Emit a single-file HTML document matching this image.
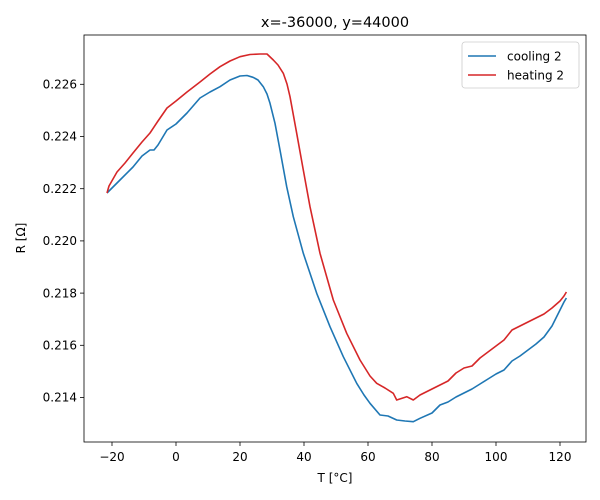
<!DOCTYPE html>
<html><head><meta charset="utf-8"><style>body{margin:0;background:#fff}svg{display:block;font-family:"DejaVu Sans","Liberation Sans",sans-serif}</style></head><body>
<svg width="600" height="500" viewBox="0 0 600 500">
<rect width="600" height="500" fill="#fff"/>
<text x="335" y="27" font-size="14.5" text-anchor="middle">x=-36000, y=44000</text>
<g stroke="#000" stroke-width="0.8">
<line x1="112" y1="442" x2="112" y2="446"/><line x1="176" y1="442" x2="176" y2="446"/><line x1="240" y1="442" x2="240" y2="446"/><line x1="304" y1="442" x2="304" y2="446"/><line x1="368" y1="442" x2="368" y2="446"/><line x1="432" y1="442" x2="432" y2="446"/><line x1="496" y1="442" x2="496" y2="446"/><line x1="560" y1="442" x2="560" y2="446"/>
<line x1="80" y1="84.3" x2="84" y2="84.3"/><line x1="80" y1="136.5" x2="84" y2="136.5"/><line x1="80" y1="188.7" x2="84" y2="188.7"/><line x1="80" y1="240.9" x2="84" y2="240.9"/><line x1="80" y1="293.1" x2="84" y2="293.1"/><line x1="80" y1="345.3" x2="84" y2="345.3"/><line x1="80" y1="397.5" x2="84" y2="397.5"/>
</g>
<g font-size="12" text-anchor="middle">
<text x="112" y="461">−20</text><text x="176" y="461">0</text><text x="240" y="461">20</text><text x="304" y="461">40</text><text x="368" y="461">60</text><text x="432" y="461">80</text><text x="496" y="461">100</text><text x="560" y="461">120</text>
</g>
<g font-size="12" text-anchor="end">
<text x="77" y="88.5">0.226</text><text x="77" y="140.7">0.224</text><text x="77" y="192.9">0.222</text><text x="77" y="245.1">0.220</text><text x="77" y="297.3">0.218</text><text x="77" y="349.5">0.216</text><text x="77" y="401.7">0.214</text>
</g>
<text x="335" y="482" font-size="12" text-anchor="middle">T [°C]</text>
<text transform="translate(25,238) rotate(-90)" font-size="12" text-anchor="middle">R [Ω]</text>
<polyline fill="none" stroke="#1f77b4" stroke-width="1.6" stroke-linejoin="round" points="107,193 110,190 120,180 133,167 142,156 150,150 154,150 158,145 167,130 176,124 187,113 200,98 210,92 220,86.7 230,80 240,76 247,75.5 253,77.3 258,80 263.3,86.7 267,94 270,103.3 275,123.3 280,150 286.7,186.7 293.3,216.7 303.3,253.3 316.7,293.3 330,326.7 343.3,356.7 356.7,383.3 364,395 370,403.3 380,415 388,416 396.7,420 405,421 413.3,421.7 420,418.3 432,413 440,405 448,402 456,397 464,393 472,389 480,384 488,379 496,374 504,370 512,361 520,356 528,350 536,344 544,337 552,326 560,310 564,302 566.4,298"/>
<polyline fill="none" stroke="#d62728" stroke-width="1.6" stroke-linejoin="round" points="107,193 109,186 117,172 125,163 133,153 142,142 150,133 158,121 167,108 176,101 187,92 200,82 210,74 220,66.7 230,61 240,56.7 250,54.5 260,54 267,54 273.3,60 278,65 283.3,73.3 287,84 290,96.7 296.7,133.3 303.3,170 310,206.7 320,253.3 333.3,300 346.7,333.3 360,360 370,376 376.7,383.3 385,388 393.3,393.3 396.7,400 406.7,396.7 413.3,400 420,395 432,389 440,385 448,381 456,373 464,368 472,366 480,358 488,352 496,346 504,340 512,330 520,326 528,322 536,318 544,314 552,308 560,301 564,296 566.4,292"/>
<rect x="84" y="35" width="502" height="407" fill="none" stroke="#000" stroke-width="0.8"/>
<rect x="462" y="42" width="117" height="46" rx="3" fill="#fff" fill-opacity="0.8" stroke="#ccc" stroke-width="0.8"/>
<line x1="468" y1="56" x2="496" y2="56" stroke="#1f77b4" stroke-width="1.6"/>
<text x="507" y="60.5" font-size="12">cooling 2</text>
<line x1="468" y1="75" x2="496" y2="75" stroke="#d62728" stroke-width="1.6"/>
<text x="507" y="79.5" font-size="12">heating 2</text>
</svg>
</body></html>
